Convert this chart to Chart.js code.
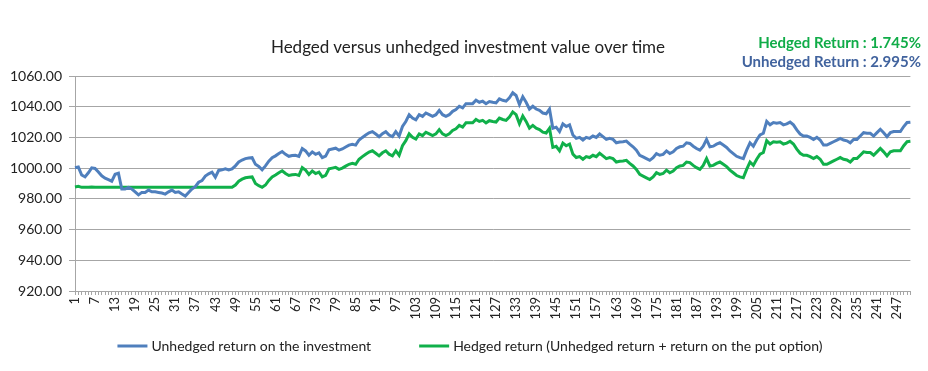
<!DOCTYPE html>
<html>
<head>
<meta charset="utf-8">
<script src="https://cdn.jsdelivr.net/npm/chart.js@4/dist/chart.umd.min.js"></script>
<style>
  html, body { margin: 0; padding: 0; background: #fff; }
  #wrap { position: relative; width: 928px; height: 371px; }
  #title {
    position: absolute; left: 0; width: 936px; top: 36px; text-align: center;
    font: 17px Lato, "Open Sans", sans-serif; color: #222;
  }
  .ret {
    position: absolute; right: 7px; font: bold 15px Lato, "Open Sans", sans-serif;
    text-align: right; white-space: nowrap;
  }
</style>
</head>
<body>
<div id="wrap">
  <canvas id="chart" width="928" height="371"></canvas>
  <div id="title">Hedged versus unhedged investment value over time</div>
  <div class="ret" style="top:33px;color:#10ac48;">Hedged Return : 1.745%</div>
  <div class="ret" style="top:52px;color:#41639e;">Unhedged Return : 2.995%</div>
</div>
<script>
// periods 1..251
const periods = Array.from({ length: 251 }, (_, i) => String(i + 1));

const unhedged = [
  1000.2, 1000.7, 995.5, 994.3, 997.0, 1000.2, 999.8, 997.5, 995.0, 993.5,
  992.5, 991.5, 996.0, 996.7, 986.4, 986.4, 987.5, 986.4, 984.6, 982.6,
  984.2, 984.2, 985.7, 984.6, 984.6, 984.2, 983.8, 983.1, 984.6, 985.7,
  984.2, 984.6, 983.1, 981.8, 984.2, 986.4, 987.9, 990.8, 991.9, 994.8,
  996.3, 997.4, 994.1, 998.5, 998.9, 999.6, 998.9, 999.5, 1001.5, 1004.0,
  1005.3, 1006.2, 1006.6, 1006.8, 1002.5, 1001.1, 998.9, 1001.5, 1004.5, 1006.8,
  1008.0, 1009.5, 1010.8, 1009.0, 1007.7, 1008.2, 1008.4, 1007.7, 1012.8, 1011.2,
  1008.4, 1010.6, 1009.0, 1009.9, 1006.8, 1007.8, 1012.0, 1012.5, 1013.0, 1011.7,
  1012.5, 1013.8, 1015.0, 1015.6, 1015.0, 1018.3, 1020.0, 1021.6, 1023.0, 1023.8,
  1022.2, 1020.5, 1022.5, 1023.8, 1021.6, 1020.5, 1023.8, 1020.9, 1027.1, 1030.4,
  1034.8, 1032.6, 1031.5, 1034.8, 1033.7, 1035.9, 1034.8, 1033.7, 1034.8, 1037.6,
  1034.8, 1033.7, 1034.8, 1037.0, 1038.1, 1040.3, 1039.2, 1042.0, 1042.0, 1042.0,
  1044.2, 1042.9, 1043.6, 1042.0, 1043.4, 1042.9, 1042.5, 1045.1, 1044.2, 1043.6,
  1045.8, 1049.1, 1047.3, 1041.4, 1046.5, 1042.9, 1038.5, 1040.3, 1038.5, 1037.6,
  1035.9, 1035.4, 1038.5, 1026.0, 1026.7, 1023.8, 1028.8, 1027.1, 1028.2, 1021.6,
  1019.4, 1020.0, 1018.3, 1020.0, 1019.4, 1020.9, 1020.0, 1022.2, 1020.5, 1018.7,
  1019.4, 1018.7, 1016.5, 1017.0, 1017.2, 1017.6, 1015.6, 1013.9, 1011.7, 1008.4,
  1007.3, 1006.2, 1005.1, 1006.8, 1009.5, 1008.4, 1009.0, 1011.2, 1009.5, 1010.6,
  1012.8, 1013.9, 1014.3, 1016.5, 1016.1, 1014.3, 1012.8, 1011.7, 1014.3, 1018.7,
  1013.9, 1014.3, 1015.6, 1016.5, 1015.0, 1013.5, 1011.2, 1009.5, 1007.7, 1006.8,
  1006.2, 1011.7, 1016.5, 1014.3, 1018.3, 1021.6, 1022.7, 1030.4, 1028.2, 1029.7,
  1029.3, 1029.7, 1028.2, 1028.8, 1030.0, 1028.2, 1024.9, 1022.2, 1020.9, 1020.9,
  1020.0, 1018.7, 1020.0, 1018.3, 1015.0, 1015.0, 1016.1, 1017.2, 1018.3, 1019.4,
  1018.3, 1017.8, 1016.5, 1018.7, 1018.7, 1020.9, 1023.1, 1022.7, 1022.7, 1020.9,
  1023.1, 1025.3, 1023.1, 1020.5, 1023.1, 1023.8, 1023.8, 1023.8, 1027.1, 1029.7,
  1029.95
];

const hedged = [
  987.7, 988.2, 987.5, 987.5, 987.5, 987.7, 987.5, 987.5, 987.5, 987.5,
  987.5, 987.5, 987.5, 987.5, 987.5, 987.5, 987.5, 987.5, 987.5, 987.5,
  987.5, 987.5, 987.5, 987.5, 987.5, 987.5, 987.5, 987.5, 987.5, 987.5,
  987.5, 987.5, 987.5, 987.5, 987.5, 987.5, 987.5, 987.5, 987.5, 987.5,
  987.5, 987.5, 987.5, 987.5, 987.5, 987.5, 987.5, 987.5, 989.0, 991.5,
  992.8, 993.7, 994.1, 994.3, 990.0, 988.6, 987.5, 989.0, 992.0, 994.3,
  995.5, 997.0, 998.3, 996.5, 995.2, 995.7, 995.9, 995.2, 1000.3, 998.7,
  995.9, 998.1, 996.5, 997.4, 994.3, 995.3, 999.5, 1000.0, 1000.5, 999.2,
  1000.0, 1001.3, 1002.5, 1003.1, 1002.5, 1005.8, 1007.5, 1009.1, 1010.5, 1011.3,
  1009.7, 1008.0, 1010.0, 1011.3, 1009.1, 1008.0, 1011.3, 1008.4, 1014.6, 1017.9,
  1022.3, 1020.1, 1019.0, 1022.3, 1021.2, 1023.4, 1022.3, 1021.2, 1022.3, 1025.1,
  1022.3, 1021.2, 1022.3, 1024.5, 1025.6, 1027.8, 1026.7, 1029.5, 1029.5, 1029.5,
  1031.7, 1030.4, 1031.1, 1029.5, 1030.9, 1030.4, 1030.0, 1032.6, 1031.7, 1031.1,
  1033.3, 1036.6, 1034.8, 1028.9, 1034.0, 1030.4, 1026.0, 1027.8, 1026.0, 1025.1,
  1023.4, 1022.9, 1026.0, 1013.5, 1014.2, 1011.3, 1016.3, 1014.6, 1015.7, 1009.1,
  1006.9, 1007.5, 1005.8, 1007.5, 1006.9, 1008.4, 1007.5, 1009.7, 1008.0, 1006.2,
  1006.9, 1006.2, 1004.0, 1004.5, 1004.7, 1005.1, 1003.1, 1001.4, 999.2, 995.9,
  994.8, 993.7, 992.6, 994.3, 997.0, 995.9, 996.5, 998.7, 997.0, 998.1,
  1000.3, 1001.4, 1001.8, 1004.0, 1003.6, 1001.8, 1000.3, 999.2, 1001.8, 1006.2,
  1001.4, 1001.8, 1003.1, 1004.0, 1002.5, 1001.0, 998.7, 997.0, 995.2, 994.3,
  993.7, 999.2, 1004.0, 1001.8, 1005.8, 1009.1, 1010.2, 1017.9, 1015.7, 1017.2,
  1016.8, 1017.2, 1015.7, 1016.3, 1017.5, 1015.7, 1012.4, 1009.7, 1008.4, 1008.4,
  1007.5, 1006.2, 1007.5, 1005.8, 1002.5, 1002.5, 1003.6, 1004.7, 1005.8, 1006.9,
  1005.8, 1005.3, 1004.0, 1006.2, 1006.2, 1008.4, 1010.6, 1010.2, 1010.2, 1008.4,
  1010.6, 1012.8, 1010.6, 1008.0, 1010.6, 1011.3, 1011.3, 1011.3, 1014.6, 1017.2,
  1017.45
];

const seriesNames = [
  "Unhedged return on the investment",
  "Hedged return (Unhedged return + return on the put option)"
];

const fontFamily = "Lato, 'Open Sans', sans-serif";
const gridGrey = "#a6a6a6";

// legend drawn under the axis, spaced like the original
const bottomLegend = {
  id: "bottomLegend",
  afterDraw(chart) {
    const c = chart.ctx;
    const y = 346;
    const sample = 30, gapText = 4, gapItems = 48;
    c.save();
    c.font = "14px " + fontFamily;
    c.textBaseline = "middle";
    const items = chart.data.datasets.map((ds) => ({
      text: ds.label,
      color: ds.borderColor,
      w: c.measureText(ds.label).width,
    }));
    let total = 0;
    items.forEach((it, i) => {
      total += sample + gapText + it.w + (i ? gapItems : 0);
    });
    let x = 470 - total / 2;
    items.forEach((it) => {
      c.strokeStyle = it.color;
      c.lineWidth = 3;
      c.beginPath();
      c.moveTo(x, y);
      c.lineTo(x + sample, y);
      c.stroke();
      c.fillStyle = "#222";
      c.fillText(it.text, x + sample + gapText, y);
      x += sample + gapText + it.w + gapItems;
    });
    c.restore();
  },
};

const ctx = document.getElementById("chart").getContext("2d");

new Chart(ctx, {
  type: "line",
  data: {
    labels: periods,
    datasets: [
      {
        label: seriesNames[0],
        data: unhedged,
        borderColor: "#4f7fbd",
        backgroundColor: "#4f7fbd",
        borderWidth: 3,
        pointRadius: 0,
        tension: 0,
      },
      {
        label: seriesNames[1],
        data: hedged,
        borderColor: "#10b04a",
        backgroundColor: "#10b04a",
        borderWidth: 3,
        pointRadius: 0,
        tension: 0,
      },
    ],
  },
  options: {
    responsive: false,
    animation: false,
    layout: {
      padding: { left: 0, right: 8, top: 76, bottom: 42 },
    },
    plugins: {
      title: { display: false },
      tooltip: { enabled: false },
      legend: { display: false },
    },
    scales: {
      x: {
        offset: false,
        grid: {
          drawOnChartArea: false,
          drawTicks: true,
          tickLength: 4,
          color: gridGrey,
        },
        border: { display: true, color: gridGrey },
        ticks: {
          autoSkip: false,
          maxRotation: 90,
          minRotation: 90,
          padding: 2,
          color: "#222",
          font: { family: fontFamily, size: 13 },
          callback: function (value, index) {
            return index % 6 === 0 ? this.getLabelForValue(value) : "";
          },
        },
        afterFit: (scale) => {
          scale.height = 38;
        },
      },
      y: {
        min: 920,
        max: 1060,
        grid: {
          color: gridGrey,
          tickLength: 6,
        },
        border: { display: true, color: gridGrey },
        ticks: {
          stepSize: 20,
          padding: 7,
          color: "#222",
          font: { family: fontFamily, size: 14 },
          callback: (v) => v.toFixed(2),
        },
        afterFit: (scale) => {
          scale.width = 75;
        },
      },
    },
  },
  plugins: [bottomLegend],
});
</script>
</body>
</html>
